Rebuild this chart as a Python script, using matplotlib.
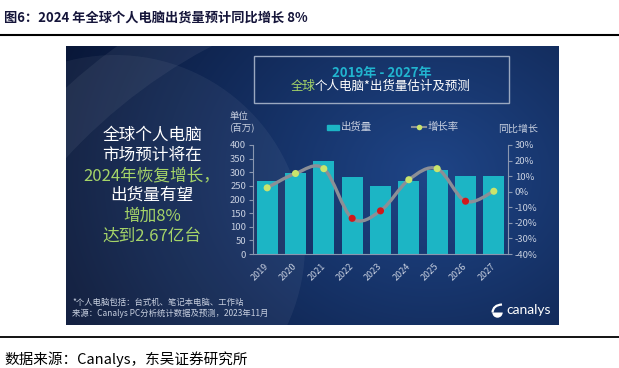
import numpy as np
import matplotlib
matplotlib.use('Agg')
import matplotlib.pyplot as plt
from matplotlib.path import Path
from matplotlib.patches import PathPatch, Rectangle, Annulus, Circle, Wedge

plt.rcParams['font.family'] = ['Noto Sans CJK SC', 'DejaVu Sans']

# data
years = ['2019', '2020', '2021', '2022', '2023', '2024', '2025', '2026', '2027']
shipments = [268, 298, 341, 284, 250, 268, 307, 287, 287]      # 百万台
growth = [2.5, 11.7, 14.8, -17.1, -12.3, 7.7, 14.8, -6.1, 0.3]  # 同比 %
left_ticks = [0, 50, 100, 150, 200, 250, 300, 350, 400]
right_ticks = [-40, -30, -20, -10, 0, 10, 20, 30]

W, H = 619, 368
BAR = '#1cb5c5'
GREEN = '#a5d468'
LIGHT = '#c8d0e0'
AXC = '#8a97b0'


def box(x0, y0, x1, y1):
    # pixel box (top-left origin) -> figure fraction
    return [x0 / W, 1 - y1 / H, (x1 - x0) / W, (y1 - y0) / H]


fig = plt.figure(figsize=(W / 100, H / 100), dpi=100)

# dark blue panel background
bg = fig.add_axes(box(66, 46, 559, 325), zorder=0)
px, py = np.meshgrid(np.arange(66, 559), np.arange(46, 325))
t = np.clip(np.hypot((px - 430) / 1.2, py - 175) / 330, 0, 1)[..., None]
inner = np.array([0.12, 0.27, 0.53])
outer = np.array([0.035, 0.09, 0.22])
bg.imshow(inner * (1 - t) + outer * t, extent=(66, 559, 325, 46), aspect='auto')
bg.set_xlim(66, 559)
bg.set_ylim(325, 46)
bg.add_patch(Annulus((460, 520), 585, 50, color='white', alpha=0.06, lw=0))
bg.add_patch(Circle((115, 245), 190, color='white', alpha=0.05, lw=0))
bg.axis('off')

# bar chart
ax = fig.add_axes(box(253, 145, 508, 254), zorder=2)
ax.patch.set_visible(False)
x = np.arange(len(years))
ax.bar(x, shipments, width=0.75, color=BAR, zorder=2)
ax.set_xlim(-0.5, 8.5)
ax.set_ylim(0, 400)
ax.set_yticks(left_ticks)
ax.set_xticks(x)
ax.set_xticklabels(years, rotation=45, ha='right', va='center',
                   rotation_mode='anchor')
ax.tick_params(axis='x', length=0, pad=8, labelsize=6.5, labelcolor=LIGHT)
ax.tick_params(axis='y', length=3, width=0.8, color=AXC, pad=2,
               labelsize=6.8, labelcolor=LIGHT)
for s in ['top', 'right']:
    ax.spines[s].set_visible(False)
for s in ['left', 'bottom']:
    ax.spines[s].set_color(AXC)
    ax.spines[s].set_linewidth(0.8)

# growth line on right axis
ax2 = ax.twinx()
ax2.set_zorder(3)
ax2.set_ylim(-40, 30)
ax2.set_yticks(right_ticks)
ax2.set_yticklabels(['%d%%' % v for v in right_ticks])
ax2.tick_params(axis='y', length=3, width=0.8, color=AXC, pad=2,
                labelsize=6.8, labelcolor=LIGHT)
for s in ['top', 'left', 'bottom']:
    ax2.spines[s].set_visible(False)
ax2.spines['right'].set_color(AXC)
ax2.spines['right'].set_linewidth(0.8)

pts = np.column_stack([x, growth]).astype(float)
ext = np.vstack([pts[0], pts, pts[-1]])
verts = [pts[0]]
codes = [Path.MOVETO]
for i in range(len(pts) - 1):
    p0, p1, p2, p3 = ext[i], ext[i + 1], ext[i + 2], ext[i + 3]
    verts += [p1 + (p2 - p0) / 6, p2 - (p3 - p1) / 6, p2]
    codes += [Path.CURVE4] * 3
ax2.add_patch(PathPatch(Path(verts, codes), fill=False, edgecolor='#8c8f96',
                        lw=2.4, zorder=3))
colors = ['#c9e46c' if g >= 0 else '#d0191b' for g in growth]
ax2.scatter(x, growth, s=26, c=colors, edgecolors='none', zorder=4)

# overlay for texts, pixel coords
ov = fig.add_axes([0, 0, 1, 1], zorder=4)
ov.set_xlim(0, W)
ov.set_ylim(H, 0)
ov.axis('off')

ov.text(4, 18, '图6：2024 年全球个人电脑出货量预计同比增长 8%', fontsize=9.5,
        fontweight='bold', color='#15153a', va='center')
ov.plot([0, W], [34.5, 34.5], color='black', lw=1.5)
ov.plot([0, W], [337, 337], color='black', lw=1.3)
ov.text(4, 359, '数据来源：Canalys，东吴证券研究所', fontsize=10.5,
        color='black', va='center')

# title box inside panel
ov.add_patch(Rectangle((254, 56), 255, 47, fill=False, edgecolor='#9aa8c0', lw=1))
ov.text(382, 73, '2019年 - 2027年', ha='center', va='center', fontsize=9.5,
        fontweight='bold', color='#21b4cf')
ov.text(316, 86, '全球', ha='right', va='center', fontsize=9, color=GREEN)
ov.text(314.5, 86, '个人电脑*出货量估计及预测', ha='left', va='center',
        fontsize=9, color='white')

# left headline
lines = [('全球个人电脑', 'white'), ('市场预计将在', 'white'),
         ('2024年恢复增长，', GREEN), ('出货量有望', 'white'),
         ('增加8%', GREEN), ('达到2.67亿台', GREEN)]
for i, (txt, c) in enumerate(lines):
    ov.text(152, 135 + i * 20.2, txt, ha='center', va='center', fontsize=12,
            color=c)

# axis captions and legend
ov.text(229, 117, '单位', va='center', fontsize=6.8, color=LIGHT)
ov.text(229, 127, '(百万)', va='center', fontsize=6.8, color=LIGHT)
ov.text(498, 129, '同比增长', va='center', fontsize=7.2, color=LIGHT)
ov.add_patch(Rectangle((327, 124.5), 12, 5, color=BAR))
ov.text(341, 127, '出货量', va='center', fontsize=7.5, color=LIGHT)
ov.plot([412, 426], [127, 127], color='#8c8f96', lw=1.5)
ov.plot([419], [127], marker='o', ms=4, color='#c9e46c', mec='none')
ov.text(428, 127, '增长率', va='center', fontsize=7.5, color=LIGHT)

# footer inside panel
ov.text(72, 302, '*个人电脑包括：台式机、笔记本电脑、工作站', va='center',
        fontsize=6, color=LIGHT)
ov.text(72, 313, '来源：Canalys PC分析统计数据及预测，2023年11月', va='center',
        fontsize=6, color=LIGHT)

# canalys logo
ov.add_patch(Wedge((497.5, 312.5), 5.2, 0, 180, color='white', lw=0))
swirl = Path([(492.5, 312.5), (493, 305), (502, 304.5)],
             [Path.MOVETO, Path.CURVE3, Path.CURVE3])
ov.add_patch(PathPatch(swirl, fill=False, edgecolor='white', lw=1.6))
ov.text(506, 310, 'canalys', va='center', fontsize=10, color='white',
        family='Lato')

fig.savefig('out.png', dpi=100)
